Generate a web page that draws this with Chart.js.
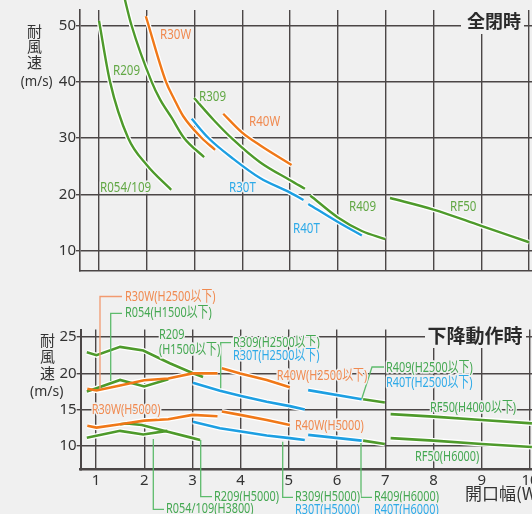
<!DOCTYPE html>
<html><head><meta charset="utf-8">
<script src="https://cdn.jsdelivr.net/npm/chart.js@4/dist/chart.umd.min.js"></script>
<style>
html,body{margin:0;padding:0;background:#f0f0f0;}
#wrap{position:relative;width:532px;height:514px;overflow:hidden;}
canvas{position:absolute;left:0;top:0;}
</style></head><body>
<div id="wrap"><canvas id="c1" width="532" height="514"></canvas><canvas id="c2" width="532" height="514"></canvas></div>
<script>
// ---------- data: top chart (全閉時) [W, wind speed] ----------
const topR054_109 = [[1.00,50.8],[1.23,40.0],[1.61,30.0],[2.00,25.2],[2.51,20.8]];
const topR209     = [[1.52,55.3],[1.68,50.0],[2.10,40.0],[2.28,36.8],[2.52,33.6],[2.78,30.0],[3.20,26.6]];
const topR30W     = [[1.98,51.6],[2.40,40.0],[2.58,36.8],[2.76,33.9],[3.15,30.0],[3.43,27.9]];
const topR309     = [[2.99,37.1],[3.40,33.2],[3.81,29.7],[4.37,25.7],[5.00,22.5],[5.31,21.0]];
const topR30T     = [[2.94,33.4],[3.29,30.0],[3.81,26.3],[4.37,22.9],[5.00,20.3],[5.28,19.0]];
const topR40W     = [[3.60,34.3],[3.99,31.0],[4.37,28.7],[5.03,25.2]];
const topR409     = [[5.42,19.8],[6.00,15.9],[6.50,13.5],[6.99,12.05]];
const topR40T     = [[5.38,18.3],[6.00,15.1],[6.50,12.7]];
const topRF50     = [[7.09,19.35],[8.00,17.3],[8.97,14.5],[10.00,11.5]];

// ---------- data: bottom chart (下降動作時) ----------
const botR30W_H2500  = [[0.82,17.9],[1.01,17.65],[1.50,18.35],[2.00,19.05],[2.50,19.3],[3.00,20.0],[3.52,20.0]];
const botR30W_H5000  = [[0.82,12.8],[1.01,12.55],[1.50,13.0],[2.00,13.5],[2.50,13.7],[3.00,14.3],[3.52,14.1]];
const botR054_H1500  = [[0.81,17.5],[1.01,17.95],[1.50,19.1],[2.00,18.2],[2.50,19.2]];
const botR209_H1500  = [[0.81,22.9],[1.01,22.5],[1.50,23.65],[1.98,23.15],[2.53,21.4],[3.00,20.05],[3.22,19.5]];
const botR054_109_H3800 = [[0.81,11.15],[1.50,12.1],[1.98,11.6],[2.48,12.1]];
const botR209_H5000  = [[1.50,13.0],[1.64,13.1],[1.95,12.9],[2.47,12.0],[2.95,11.2],[3.16,10.85]];
const botR30T_H2500  = [[3.01,18.7],[3.57,17.6],[4.01,16.9],[4.54,16.1],[5.02,15.5],[5.33,15.05]];
const botR30T_H5000  = [[3.01,13.35],[3.57,12.45],[4.01,12.0],[4.54,11.45],[5.02,11.1],[5.33,10.85]];
const botR40W_H2500  = [[3.61,20.7],[3.99,20.0],[4.54,19.1],[5.02,18.1]];
const botR40W_H5000  = [[3.61,14.75],[3.99,14.3],[4.54,13.6],[5.02,12.9]];
const botR40T_H2500  = [[5.40,17.7],[6.51,16.45]];
const botR409_H2500  = [[6.54,16.45],[6.99,16.0]];
const botR40T_H6000  = [[5.40,11.55],[6.51,10.75]];
const botR409_H6000  = [[6.54,10.75],[6.99,10.3]];
const botRF50_H4000  = [[7.11,14.4],[8.00,14.05],[9.00,13.6],[10.04,13.13]];
const botRF50_H6000  = [[7.11,11.1],[8.00,10.75],[9.00,10.3],[10.04,9.88]];

// tick settings
const xStep = 1;
const yStepTop = 10;
const yStepBottom = 5;

// ---------- styles ----------
const ORANGE='#f07818', GREEN='#4e9a2b', BLUE='#1d9fe2';
const ORANGE_TXT='#f08a50', GREEN_TXT='#62a845', BLUE_TXT='#2eaae8', GREEN_TXT2='#45a852';
const LEAD_G='#5dbb6c', LEAD_O='#f29a70';
const BG='#f0f0f0', GRID='#4b4646', INK='#333333';
const FONT='"Noto Sans","Noto Sans CJK JP",sans-serif';
const CJK='"Noto Sans CJK JP","Noto Sans",sans-serif';
Chart.defaults.font.family = FONT;

function buildSets(list, width, smooth){
  const sets=[];
  list.forEach(s=>{
    const pts=s.data.map(p=>({x:p[0],y:p[1]}));
    const base={data:pts,pointRadius:0,fill:false,clip:false,
      tension:smooth?0.4:0,cubicInterpolationMode:smooth?'monotone':'default'};
    sets.push(Object.assign({},base,{borderColor:s.color,borderWidth:width,order:s.order}));
    sets.push(Object.assign({},base,{borderColor:'#ffffff',borderWidth:width+2.6,order:20}));
  });
  return sets;
}

function condText(ctx,s,x,y,color,size,sx,opts){
  opts=opts||{};
  ctx.save();
  ctx.font=(opts.bold?'bold ':'')+size+'px '+(opts.family||FONT);
  ctx.translate(x,y); ctx.scale(sx,1);
  ctx.textBaseline='middle'; ctx.textAlign=opts.align||'left';
  if(!opts.noHalo){ctx.lineJoin='round';ctx.strokeStyle=BG;ctx.lineWidth=3.5;ctx.strokeText(s,0,0);}
  ctx.fillStyle=color; ctx.fillText(s,0,0);
  ctx.restore();
}
function poly(ctx,pts,color,w){
  ctx.save();ctx.strokeStyle=color;ctx.lineWidth=w||1.3;ctx.beginPath();
  pts.forEach((p,i)=>i?ctx.lineTo(p[0],p[1]):ctx.moveTo(p[0],p[1]));ctx.stroke();ctx.restore();
}

// ---------- top chart ----------
const topSeries=[
  {data:topR30W,color:ORANGE,order:1},{data:topR40W,color:ORANGE,order:1},
  {data:topR30T,color:BLUE,order:2},{data:topR40T,color:BLUE,order:2},
  {data:topR054_109,color:GREEN,order:3},{data:topR209,color:GREEN,order:3},
  {data:topR309,color:GREEN,order:3},{data:topR409,color:GREEN,order:3},{data:topRF50,color:GREEN,order:3}
];
const topLabels=[
  ['R30W',160,35,ORANGE_TXT],['R209',113,71,GREEN_TXT],['R309',199,97,GREEN_TXT],
  ['R40W',249,122,ORANGE_TXT],['R054/109',100,188,GREEN_TXT],['R30T',229,188,BLUE_TXT],
  ['R409',349,207,GREEN_TXT],['R40T',293,229,BLUE_TXT],['RF50',450,207,GREEN_TXT]
];
const topDeco={id:'topDeco',afterDraw(chart){
  const ctx=chart.ctx;
  topLabels.forEach(l=>condText(ctx,l[0],l[1],l[2],l[3],15,0.77));
  ctx.save();ctx.fillStyle=BG;ctx.fillRect(461,9,63,25);ctx.restore();
  condText(ctx,'全閉時',494,21.5,'#2a2a2a',18,1,{bold:true,align:'center',family:CJK,noHalo:true});
  condText(ctx,'耐',34.5,31,INK,15,1,{align:'center',family:CJK,noHalo:true});
  condText(ctx,'風',34.5,46.5,INK,15,1,{align:'center',family:CJK,noHalo:true});
  condText(ctx,'速',34.5,62,INK,15,1,{align:'center',family:CJK,noHalo:true});
  condText(ctx,'(m/s)',36.7,82,INK,14,0.95,{align:'center',noHalo:true});
}};
new Chart(document.getElementById('c1'),{
  type:'line',
  data:{datasets:buildSets(topSeries,2.4,true)},
  options:{responsive:false,animation:false,events:[],
    layout:{padding:{top:10,bottom:243,left:0,right:0}},
    plugins:{legend:{display:false},tooltip:{enabled:false}},
    scales:{
      x:{type:'linear',min:0.6023,max:10.062,
        ticks:{display:false,stepSize:xStep,includeBounds:false},
        grid:{color:GRID,lineWidth:1.4,drawTicks:false},
        border:{display:true,color:GRID,width:1.6},
        afterFit:s=>{s.height=0;s.paddingLeft=0;s.paddingRight=0;}},
      y:{type:'linear',min:6.40,max:52.71,
        ticks:{stepSize:yStepTop,includeBounds:false,padding:0,color:INK,font:{size:15}},
        grid:{color:GRID,lineWidth:1.4,drawTicks:true,tickLength:4},
        border:{display:true,color:GRID,width:1.6},
        afterFit:s=>{s.width=80;s.paddingTop=0;s.paddingBottom=0;}}
    }},
  plugins:[topDeco]
});

// ---------- bottom chart ----------
const botSeries=[
  {data:botR30W_H2500,color:ORANGE,order:1},{data:botR30W_H5000,color:ORANGE,order:1},
  {data:botR40W_H2500,color:ORANGE,order:1},{data:botR40W_H5000,color:ORANGE,order:1},
  {data:botR30T_H2500,color:BLUE,order:2},{data:botR30T_H5000,color:BLUE,order:2},
  {data:botR40T_H2500,color:BLUE,order:2},{data:botR40T_H6000,color:BLUE,order:2},
  {data:botR054_H1500,color:GREEN,order:3},{data:botR209_H1500,color:GREEN,order:3},
  {data:botR054_109_H3800,color:GREEN,order:3},{data:botR209_H5000,color:GREEN,order:3},
  {data:botR409_H2500,color:GREEN,order:3},{data:botR409_H6000,color:GREEN,order:3},
  {data:botRF50_H4000,color:GREEN,order:3},{data:botRF50_H6000,color:GREEN,order:3}
];
const botLeaders=[
  [[[122,296.5],[100,296.5],[100,388]],LEAD_O],
  [[[122,313.3],[110.7,313.3],[110.7,381]],LEAD_G],
  [[[231,342.7],[220.7,342.7],[220.7,388.3]],LEAD_G],
  [[[384,367],[372,367],[361.7,399]],LEAD_G],
  [[[200.7,440],[200.7,496.7],[212,496.7]],LEAD_G],
  [[[153.3,439],[153.3,509.3],[164,509.3]],LEAD_G],
  [[[282.7,441.7],[282.7,497.3],[293,497.3]],LEAD_G],
  [[[361,443],[361,497.3],[372,497.3]],LEAD_G]
];
const botLabels=[
  ['R30W(H2500以下)',125,296.5,ORANGE_TXT],['R054(H1500以下)',125,313.3,GREEN_TXT2],
  ['R209',159,335,GREEN_TXT2],['(H1500以下)',159,350,GREEN_TXT2],
  ['R309(H2500以下)',233,342.7,GREEN_TXT2],['R30T(H2500以下)',233,355.5,BLUE_TXT],
  ['R40W(H2500以下)',276.7,375.5,ORANGE_TXT],
  ['R409(H2500以下)',386,368.3,GREEN_TXT2],['R40T(H2500以下)',386,382.7,BLUE_TXT],
  ['RF50(H4000以下)',430,407.7,GREEN_TXT2],
  ['R30W(H5000)',91.7,410,ORANGE_TXT],['R40W(H5000)',295,426,ORANGE_TXT],
  ['RF50(H6000)',415,456.7,GREEN_TXT2],
  ['R209(H5000)',214,496.7,GREEN_TXT2],['R054/109(H3800)',166,509.3,GREEN_TXT2],
  ['R309(H5000)',295,497.3,GREEN_TXT2],['R30T(H5000)',295,510,BLUE_TXT],
  ['R409(H6000)',374,497.3,GREEN_TXT2],['R40T(H6000)',374,510,BLUE_TXT]
];
const botDeco={id:'botDeco',afterDraw(chart){
  const ctx=chart.ctx;
  botLeaders.forEach(l=>poly(ctx,l[0],l[1],1.3));
  botLabels.forEach(l=>condText(ctx,l[0],l[1],l[2],l[3],14.5,0.75));
  ctx.save();ctx.fillStyle=BG;ctx.fillRect(425,323,101,25);ctx.restore();
  condText(ctx,'下降動作時',475,336,'#2a2a2a',19,1,{bold:true,align:'center',family:CJK,noHalo:true});
  condText(ctx,'耐',47.5,340,INK,15,1,{align:'center',family:CJK,noHalo:true});
  condText(ctx,'風',47.5,356,INK,15,1,{align:'center',family:CJK,noHalo:true});
  condText(ctx,'速',47.5,373,INK,15,1,{align:'center',family:CJK,noHalo:true});
  condText(ctx,'(m/s)',46.7,392,INK,14,1,{align:'center',noHalo:true});
  condText(ctx,'開口幅(W)',465,494,INK,17,1,{family:CJK,noHalo:true});
}};
new Chart(document.getElementById('c2'),{
  type:'line',
  data:{datasets:buildSets(botSeries,2.6,false)},
  options:{responsive:false,animation:false,events:[],
    layout:{padding:{top:329.5,bottom:0,left:0,right:0}},
    plugins:{legend:{display:false},tooltip:{enabled:false}},
    scales:{
      x:{type:'linear',min:0.683,max:10.042,
        ticks:{stepSize:xStep,includeBounds:false,padding:2,color:INK,font:{size:15},maxRotation:0,autoSkip:false},
        grid:{color:GRID,lineWidth:1.4,drawTicks:false},
        border:{display:true,color:GRID,width:2.6},
        afterFit:s=>{s.height=44.7;s.paddingLeft=0;s.paddingRight=0;}},
      y:{type:'linear',min:6.81,max:26.04,
        ticks:{stepSize:yStepBottom,includeBounds:false,padding:0,color:INK,font:{size:15}},
        grid:{color:GRID,lineWidth:1.4,drawTicks:true,tickLength:4},
        border:{display:true,color:GRID,width:2},
        afterFit:s=>{s.width=80.7;s.paddingTop=0;s.paddingBottom=0;}}
    }},
  plugins:[botDeco]
});
</script>
</body></html>
